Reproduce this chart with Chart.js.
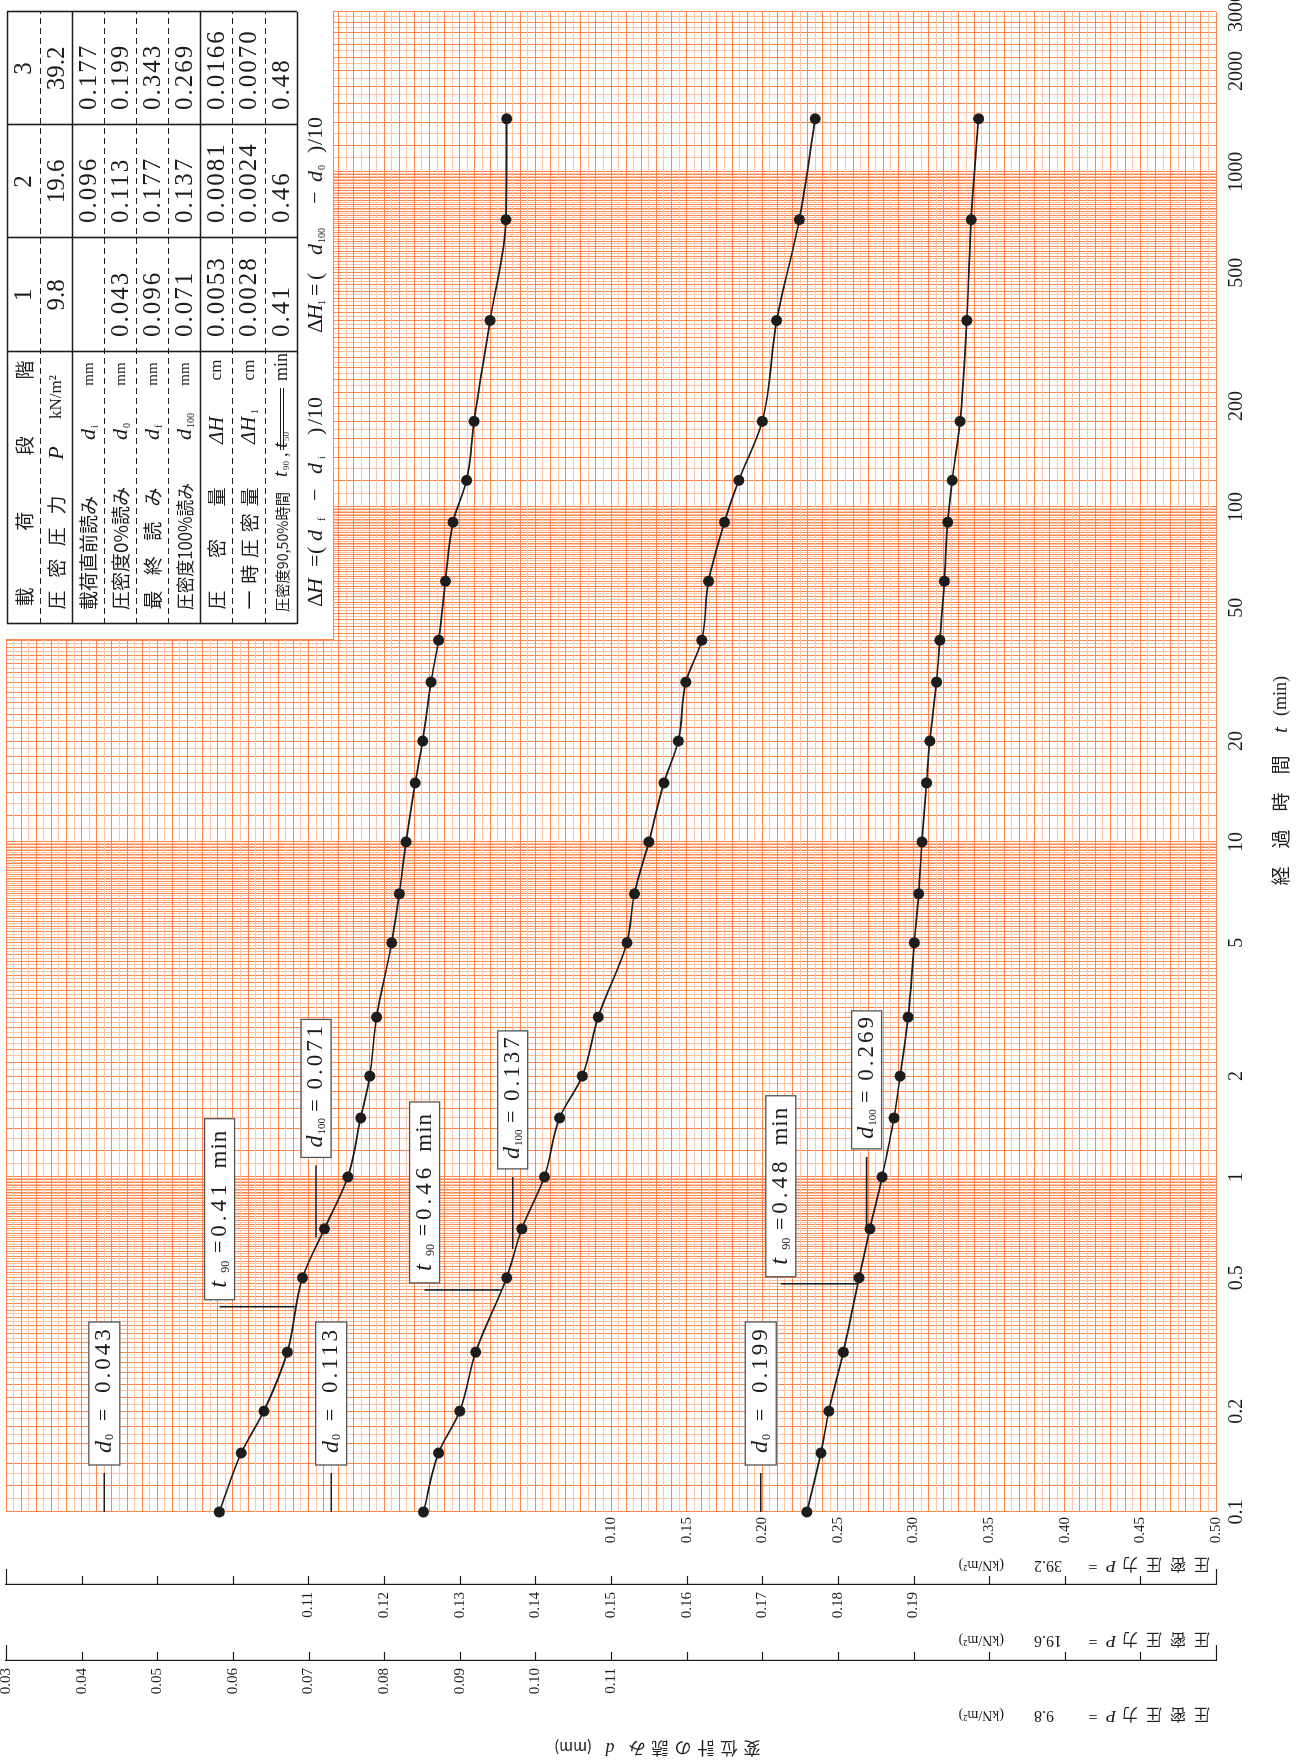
<!DOCTYPE html>
<html>
<head>
<meta charset="utf-8">
<script src="https://cdn.jsdelivr.net/npm/chart.js"></script>
<style>
html, body { margin: 0; padding: 0; background: #fff; overflow: hidden; width: 1313px; height: 1760px; }
/* the sheet is laid out landscape and turned a quarter turn, like the scanned form */
#sheet { position: absolute; left: 0; top: 0; width: 1760px; height: 1313px; transform-origin: 0 0; transform: translate(0, 1760px) rotate(-90deg); }
canvas { display: block; }
</style>
</head>
<body>
<div id="sheet"><canvas id="chart" width="1760" height="1313"></canvas></div>
<script>
// elapsed time (min)
const times = [0.1, 0.15, 0.2, 0.3, 0.5, 0.7, 1, 1.5, 2, 3, 5, 7, 10, 15, 20, 30, 40, 60, 90, 120, 180, 360, 720, 1440];
// dial gauge readings d (mm), one list per load step
const read98 = [0.0582, 0.0611, 0.0641, 0.0672, 0.0692, 0.0721, 0.0752, 0.0769, 0.0781, 0.0790, 0.0810, 0.0820, 0.0829, 0.0841, 0.0851, 0.0862, 0.0872, 0.0881, 0.0891, 0.0909, 0.0919, 0.0940, 0.0961, 0.0962];
const read196 = [0.1252, 0.1272, 0.1300, 0.1321, 0.1362, 0.1382, 0.1412, 0.1432, 0.1462, 0.1483, 0.1521, 0.1531, 0.1550, 0.1570, 0.1589, 0.1599, 0.1620, 0.1629, 0.1650, 0.1669, 0.1700, 0.1719, 0.1749, 0.1770];
const read392 = [0.2295, 0.2388, 0.2440, 0.2536, 0.2640, 0.2712, 0.2792, 0.2871, 0.2911, 0.2964, 0.3005, 0.3034, 0.3056, 0.3086, 0.3108, 0.3152, 0.3174, 0.3204, 0.3226, 0.3256, 0.3308, 0.3352, 0.3381, 0.3430];

const stepNo = ['1', '2', '3'];
const pressures = ['9.8', '19.6', '39.2'];
const d0s = [0.043, 0.113, 0.199];
const d100s = [0.071, 0.137, 0.269];
const t90s = [0.41, 0.46, 0.48];
const d100At = [0.66, 0.61, 0.70]; // time where the curve reaches d100 (leader start)

const tblDi = ['', '0.096', '0.177'];
const tblD0 = ['0.043', '0.113', '0.199'];
const tblDf = ['0.096', '0.177', '0.343'];
const tblD100 = ['0.071', '0.137', '0.269'];
const tblDH = ['0.0053', '0.0081', '0.0166'];
const tblDH1 = ['0.0028', '0.0024', '0.0070'];
const tblT90 = ['0.41', '0.46', '0.48'];

const timeLabels = [0.1, 0.2, 0.5, 1, 2, 5, 10, 20, 50, 100, 200, 500, 1000, 2000, 3000];
const y1Labels = ['0.03', '0.04', '0.05', '0.06', '0.07', '0.08', '0.09', '0.10', '0.11'];
const y2Labels = ['0.11', '0.12', '0.13', '0.14', '0.15', '0.16', '0.17', '0.18', '0.19'];
const y3Labels = ['0.10', '0.15', '0.20', '0.25', '0.30', '0.35', '0.40', '0.45', '0.50'];

const INK = '#1c1c1c';
const DARK = '#ff874b';
const LIGHT = '#ffc4a6';
const SERIF = "'Liberation Serif', 'Noto Sans CJK JP', serif";
const JP = "'Noto Sans CJK JP', 'Liberation Serif', sans-serif";
const font = (size, fam, style) => (style ? style + ' ' : '') + size + 'px ' + (fam || SERIF);

// semi-log paper lines
const xGrid = [];
[0.01, 0.1, 1, 10].forEach(dec => { for (let m = 10; m < 100; m++) xGrid.push(+(m * dec).toPrecision(4)); });
for (let m = 10; m <= 30; m++) xGrid.push(m * 100);
const xMant = i => (i < 360 ? 10 + (i % 90) : 10 + i - 360);

const y1Grid = [];
for (let i = 0; i <= 160; i++) y1Grid.push(+(0.03 + i * 0.001).toFixed(3));
const y1Major = [];
const y2Major = [];
const y3Major = [];
for (let i = 0; i <= 16; i++) {
  y1Major.push(+(0.03 + i * 0.01).toFixed(2));
  y2Major.push(+(0.07 + i * 0.01).toFixed(2));
  y3Major.push(+(-0.30 + i * 0.05).toFixed(2));
}

function valueAt(ts, vs, t) {
  for (let i = 0; i < ts.length - 1; i++) {
    if (t >= ts[i] && t <= ts[i + 1]) {
      const f = Math.log(t / ts[i]) / Math.log(ts[i + 1] / ts[i]);
      return vs[i] + f * (vs[i + 1] - vs[i]);
    }
  }
  return vs[vs.length - 1];
}

function put(ctx, text, x, y, f, align) {
  ctx.font = f;
  ctx.textAlign = align || 'left';
  ctx.fillText(text, x, y);
}

function spread(ctx, text, xa, xb, y, f) {
  const chars = [...text];
  ctx.font = f;
  ctx.textAlign = 'center';
  chars.forEach((ch, i) => ctx.fillText(ch, xa + (xb - xa) * i / (chars.length - 1), y));
}

function fit(ctx, text, xa, xb, y, f) {
  ctx.font = f;
  ctx.textAlign = 'left';
  ctx.fillText(text, xa, y, xb - xa);
}

function seg(ctx, x1, y1, x2, y2) {
  ctx.beginPath(); ctx.moveTo(x1, y1); ctx.lineTo(x2, y2); ctx.stroke();
}

function labelBox(ctx, x, y, w, h) {
  ctx.save();
  ctx.fillStyle = '#fff';
  ctx.fillRect(x, y, w, h);
  ctx.strokeStyle = '#555';
  ctx.lineWidth = 1.3;
  ctx.strokeRect(x, y, w, h);
  ctx.restore();
}

const paper = {
  id: 'paper',
  afterDraw(chart) {
    const ctx = chart.ctx;
    const a = chart.chartArea;
    const xs = chart.scales.x;
    const ys = [chart.scales.y1, chart.scales.y2, chart.scales.y3];
    const reads = [read98, read196, read392];
    ctx.save();
    ctx.fillStyle = INK;
    ctx.strokeStyle = INK;
    ctx.textBaseline = 'middle';

    // inward tick marks of the two outer reading scales
    ctx.lineWidth = 1.2;
    [[ys[0], y1Major], [ys[1], y2Major]].forEach(([s, vals]) => {
      const bx = s.right;
      vals.forEach((v, i) => {
        const py = Math.round(s.getPixelForValue(v)) + 0.5;
        const len = (i === 0 || i === vals.length - 1) ? 15 : 8;
        seg(ctx, bx, py, bx + len, py);
      });
    });

    // scale titles (read bottom to top)
    const pTitle = (x, val) => {
      ctx.save();
      ctx.translate(x, a.bottom - 4);
      ctx.rotate(-Math.PI / 2);
      ['圧', '密', '圧', '力'].forEach((ch, i) => put(ctx, ch, 10 + i * 24, 0, font(16, JP), 'center'));
      put(ctx, 'P', 101, 0, font(17, SERIF, 'italic'), 'center');
      put(ctx, '=', 119, 0, font(16), 'center');
      put(ctx, val, 178, 0, font(16), 'right');
      put(ctx, '(kN/m²)', 208, 0, font(14), 'left');
      ctx.restore();
    };
    pTitle(195, pressures[2]);
    pTitle(120, pressures[1]);
    pTitle(45, pressures[0]);

    ctx.save();
    ctx.translate(12, 760);
    ctx.rotate(-Math.PI / 2);
    [...'変位計の読み'].forEach((ch, i) => put(ctx, ch, 8 + i * 23, 0, font(17, JP), 'center'));
    put(ctx, 'd', 150, 0, font(18, SERIF, 'italic'), 'center');
    put(ctx, '(mm)', 168, 0, font(15, JP), 'left');
    ctx.restore();

    // time axis title
    [...'経過時間'].forEach((ch, i) => put(ctx, ch, 884 + i * 37, 1281, font(19, JP), 'center'));
    put(ctx, 't', 1030, 1281, font(21, SERIF, 'italic'), 'center');
    put(ctx, '(min)', 1044, 1281, font(18), 'left');

    // d0, d100, t90 construction marks
    for (let k = 0; k < 3; k++) {
      const s = ys[k];
      ctx.lineWidth = 1.6;

      const p0 = s.getPixelForValue(d0s[k]);
      seg(ctx, a.left, p0, a.left + 39, p0);
      labelBox(ctx, a.left + 47, p0 - 15.5, 143, 31);
      let bx = a.left + 47;
      put(ctx, 'd', bx + 12, p0, font(24, SERIF, 'italic'));
      put(ctx, '0', bx + 25, p0 + 6, font(12));
      put(ctx, '=', bx + 50, p0, font(22), 'center');
      ctx.letterSpacing = '3px';
      put(ctx, String(d0s[k]), bx + 72, p0, font(23));
      ctx.letterSpacing = '0px';

      const tx = xs.getPixelForValue(t90s[k]);
      const cy = s.getPixelForValue(valueAt(times, reads[k], t90s[k]));
      const top = cy - 77;
      seg(ctx, tx, cy, tx, top);
      bx = tx + 7;
      labelBox(ctx, bx, top - 15, 181, 30);
      put(ctx, 't', bx + 12, top, font(25, SERIF, 'italic'));
      put(ctx, '90', bx + 27, top + 6, font(12));
      put(ctx, '=', bx + 53, top, font(22), 'center');
      ctx.letterSpacing = '4px';
      put(ctx, String(t90s[k]), bx + 63, top, font(23));
      ctx.letterSpacing = '1px';
      put(ctx, 'min', bx + 170, top, font(23), 'right');
      ctx.letterSpacing = '0px';

      const p100 = s.getPixelForValue(d100s[k]);
      const lx = xs.getPixelForValue(d100At[k]);
      seg(ctx, lx, p100, lx + 72, p100);
      bx = lx + 80;
      labelBox(ctx, bx, p100 - 15, 138, 30);
      put(ctx, 'd', bx + 10, p100, font(24, SERIF, 'italic'));
      put(ctx, '100', bx + 23, p100 + 6, font(11));
      put(ctx, '=', bx + 52, p100, font(22), 'center');
      ctx.letterSpacing = '3px';
      put(ctx, String(d100s[k]), bx + 68, p100, font(23));
      ctx.letterSpacing = '0px';
    }

    // blank corner of the sheet holding the result table
    ctx.fillStyle = '#fff';
    ctx.fillRect(1120, 0, 640, 333);
    ctx.strokeStyle = DARK;
    ctx.lineWidth = 1;
    ctx.beginPath();
    ctx.moveTo(1120.5, a.top); ctx.lineTo(1120.5, 333.5); ctx.lineTo(a.right, 333.5);
    ctx.stroke();

    const rowsY = [7, 40, 72, 104, 136, 168, 200, 232, 265, 297];
    const solidRows = [0, 2, 6, 9];
    const colsX = [1136, 1408, 1522, 1635, 1748];
    ctx.strokeStyle = INK;
    rowsY.forEach((ry, i) => {
      const solid = solidRows.includes(i);
      ctx.lineWidth = solid ? 1.6 : 1.2;
      ctx.setLineDash(solid ? [] : [6, 4]);
      seg(ctx, colsX[0], ry + 0.5, colsX[4], ry + 0.5);
    });
    ctx.setLineDash([]);
    ctx.lineWidth = 1.6;
    colsX.forEach(cx => seg(ctx, cx + 0.5, rowsY[0], cx + 0.5, rowsY[9]));

    ctx.fillStyle = INK;
    const mid = i => (rowsY[i] + rowsY[i + 1]) / 2 + 1;
    const jp = font(19, JP);
    spread(ctx, '載荷段階', 1163, 1390, mid(0), jp);
    spread(ctx, '圧密圧力', 1160, 1255, mid(1), jp);
    put(ctx, 'P', 1307, mid(1), font(22, SERIF, 'italic'), 'center');
    put(ctx, 'kN/m²', 1363, mid(1), font(17), 'center');
    fit(ctx, '載荷直前読み', 1150, 1273, mid(2), jp);
    fit(ctx, '圧密度0%読み', 1150, 1273, mid(3), jp);
    spread(ctx, '最終読み', 1160, 1263, mid(4), jp);
    fit(ctx, '圧密度100%読み', 1150, 1277, mid(5), font(18, JP));
    spread(ctx, '圧密量', 1160, 1263, mid(6), jp);
    spread(ctx, '一時圧密量', 1160, 1263, mid(7), jp);
    fit(ctx, '圧密度90,50%時間', 1148, 1268, mid(8), font(15, JP));
    const subs = ['i', '0', 'f', '100'];
    subs.forEach((sb, i) => {
      put(ctx, 'd', 1320, mid(2 + i), font(22, SERIF, 'italic'));
      put(ctx, sb, 1332, mid(2 + i) + 6, font(10));
      put(ctx, 'mm', 1386, mid(2 + i), font(15), 'center');
    });
    ['', '1'].forEach((sb, i) => {
      put(ctx, 'ΔH', 1316, mid(6 + i), font(21, SERIF, 'italic'));
      put(ctx, sb, 1346, mid(6 + i) + 6, font(10));
      put(ctx, 'cm', 1390, mid(6 + i), font(17), 'center');
    });
    put(ctx, 't', 1283, mid(8), font(20, SERIF, 'italic'));
    put(ctx, '90', 1290, mid(8) + 5, font(9));
    put(ctx, ',', 1303, mid(8), font(18));
    put(ctx, 't', 1312, mid(8), font(20, SERIF, 'italic'));
    put(ctx, '50', 1319, mid(8) + 5, font(9));
    ctx.lineWidth = 1;
    seg(ctx, 1310, mid(8) - 1.5, 1372, mid(8) - 1.5);
    seg(ctx, 1310, mid(8) + 1.5, 1372, mid(8) + 1.5);
    put(ctx, 'min', 1407, mid(8), font(18), 'right');

    for (let c = 0; c < 3; c++) {
      const cx = (colsX[c + 1] + colsX[c + 2]) / 2;
      put(ctx, stepNo[c], cx, mid(0), font(25), 'center');
      put(ctx, pressures[c], cx, mid(1), font(25), 'center');
    }
    ctx.letterSpacing = '2px';
    [tblDi, tblD0, tblDf, tblD100, tblDH, tblDH1, tblT90].forEach((row, r) => {
      row.forEach((v, c) => put(ctx, v, colsX[c + 1] + 15, mid(r + 2), font(25)));
    });
    ctx.letterSpacing = '0px';

    // formulas under the table
    const fy = 316;
    const fb = 1153;
    put(ctx, 'Δ', fb, fy, font(22));
    put(ctx, 'H', fb + 13, fy, font(22, SERIF, 'italic'));
    put(ctx, '=', fb + 40, fy, font(22));
    put(ctx, '(', fb + 53, fy, font(22));
    put(ctx, 'd', fb + 66, fy, font(22, SERIF, 'italic'));
    put(ctx, 'f', fb + 86, fy + 6, font(10));
    put(ctx, '−', fb + 106, fy, font(22));
    put(ctx, 'd', fb + 133, fy, font(22, SERIF, 'italic'));
    put(ctx, 'i', fb + 148, fy + 6, font(10));
    put(ctx, ')', fb + 172, fy, font(22));
    put(ctx, '/10', fb + 182, fy, font(22));
    const fc = 1427;
    put(ctx, 'Δ', fc, fy, font(22));
    put(ctx, 'H', fc + 13, fy, font(22, SERIF, 'italic'));
    put(ctx, '1', fc + 28, fy + 6, font(10));
    put(ctx, '=', fc + 37, fy, font(22));
    put(ctx, '(', fc + 53, fy, font(22));
    put(ctx, 'd', fc + 78, fy, font(22, SERIF, 'italic'));
    put(ctx, '100', fc + 90, fy + 6, font(10));
    put(ctx, '−', fc + 129, fy, font(22));
    put(ctx, 'd', fc + 151, fy, font(22, SERIF, 'italic'));
    put(ctx, '0', fc + 163, fy + 6, font(10));
    put(ctx, ')', fc + 180, fy, font(22));
    put(ctx, '/10', fc + 188, fy, font(22));

    ctx.restore();
  }
};

const ink = { color: INK, width: 1.2 };

new Chart(document.getElementById('chart'), {
  type: 'line',
  data: {
    datasets: [read98, read196, read392].map((r, k) => ({
      data: times.map((t, i) => ({ x: t, y: r[i] })),
      yAxisID: ['y1', 'y2', 'y3'][k],
      borderColor: INK,
      borderWidth: 1.7,
      backgroundColor: INK,
      pointRadius: 5.5,
      pointBackgroundColor: INK,
      pointBorderWidth: 0,
      cubicInterpolationMode: 'monotone',
      fill: false,
      clip: false
    }))
  },
  options: {
    responsive: false,
    animation: false,
    devicePixelRatio: 1,
    layout: { padding: { top: 6, right: 12, bottom: 0, left: 0 } },
    plugins: { legend: { display: false }, tooltip: { enabled: false } },
    scales: {
      x: {
        type: 'logarithmic',
        position: 'bottom',
        min: 0.1,
        max: 3000,
        afterBuildTicks: s => { s.ticks = xGrid.map(v => ({ value: v })); },
        afterFit: s => { s.height = 97; s.paddingLeft = 0; s.paddingRight = 0; },
        grid: { color: c => (xMant(c.index) % 2 ? LIGHT : DARK), lineWidth: 1, drawTicks: false },
        border: { display: false },
        ticks: {
          autoSkip: false, maxRotation: 0, minRotation: 0, padding: 9, color: INK,
          font: { family: SERIF, size: 20 },
          callback: v => {
            const hit = timeLabels.find(t => Math.abs(t - v) < t * 1e-6);
            return hit === undefined ? '' : String(hit);
          }
        }
      },
      y1: {
        type: 'linear', position: 'left', weight: 2, reverse: true, min: 0.03, max: 0.19,
        afterBuildTicks: s => { s.ticks = y1Grid.map(v => ({ value: v })); },
        afterFit: s => { s.width = 100; s.paddingTop = 0; s.paddingBottom = 0; },
        grid: { color: c => (c.index % 2 ? LIGHT : DARK), lineWidth: 1, drawTicks: false },
        border: ink,
        ticks: {
          autoSkip: false, padding: 8, color: INK, font: { family: SERIF, size: 15 },
          callback: (v, i) => {
            if (i % 10) return '';
            const s = v.toFixed(2);
            return y1Labels.includes(s) ? s : '';
          }
        }
      },
      y2: {
        type: 'linear', position: 'left', weight: 1, reverse: true, min: 0.07, max: 0.23,
        afterBuildTicks: s => { s.ticks = y2Major.map(v => ({ value: v })); },
        afterFit: s => { s.width = 76; s.paddingTop = 0; s.paddingBottom = 0; },
        grid: { drawOnChartArea: false, drawTicks: false },
        border: ink,
        ticks: {
          autoSkip: false, padding: 8, color: INK, font: { family: SERIF, size: 15 },
          callback: v => { const s = v.toFixed(2); return y2Labels.includes(s) ? s : ''; }
        }
      },
      y3: {
        type: 'linear', position: 'left', weight: 0, reverse: true, min: -0.30, max: 0.50,
        afterBuildTicks: s => { s.ticks = y3Major.map(v => ({ value: v })); },
        afterFit: s => { s.width = 72; s.paddingTop = 0; s.paddingBottom = 0; },
        grid: { drawOnChartArea: false, drawTicks: false },
        border: { display: false },
        ticks: {
          autoSkip: false, padding: 5, color: INK, font: { family: SERIF, size: 15 },
          callback: v => { const s = v.toFixed(2); return y3Labels.includes(s) ? s : ''; }
        }
      }
    }
  },
  plugins: [paper]
});
</script>
</body>
</html>
